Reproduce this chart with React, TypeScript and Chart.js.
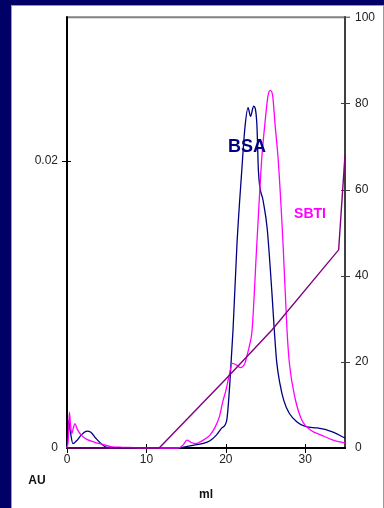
import React, { useEffect, useRef } from "react";
import { Chart, registerables } from "chart.js";
Chart.register(...registerables);

// BSA absorbance trace (ml, AU)
const bsaMl = [0, 0.2, 0.4, 0.75, 1.2, 1.8, 2.5, 3.0, 3.6, 4.3, 5.0, 6, 14, 15, 16, 17, 18, 18.8, 19.5, 20.1, 20.5, 20.9, 21.4, 22.0, 22.4, 22.8, 23.1, 23.5, 23.9, 24.1, 24.7, 25.2, 25.8, 26.1, 26.4, 26.8, 27.3, 28.0, 29.0, 30, 31.5, 32.5, 33.5, 35];
const bsaAU = [0, 0.0019, 0.0012, 0.0003, 0.0005, 0.0009, 0.00118, 0.0011, 0.0007, 0.0003, 0.00005, 0, 0, 0.0001, 0.0002, 0.0003, 0.0005, 0.0009, 0.0014, 0.0019, 0.0045, 0.0082, 0.0142, 0.0193, 0.0223, 0.0237, 0.0231, 0.0238, 0.0226, 0.0193, 0.0172, 0.0153, 0.0108, 0.0082, 0.006, 0.0045, 0.0033, 0.0024, 0.0018, 0.0015, 0.0014, 0.0013, 0.0011, 0.0007];

// SBTI absorbance trace (ml, AU)
const sbtiMl = [0, 0.15, 0.3, 0.45, 0.6, 0.8, 1.0, 1.3, 1.8, 2.5, 3.5, 4.5, 5.5, 7, 8.5, 9, 14, 14.6, 15.1, 15.6, 16.2, 17, 18, 18.6, 19.2, 19.6, 20.0, 20.4, 20.8, 21.3, 21.8, 22.4, 22.6, 23.0, 23.3, 23.9, 24.5, 24.9, 25.3, 25.6, 25.9, 26.2, 26.6, 27.2, 27.7, 28.0, 28.7, 29.6, 30.8, 32, 33.5, 35];
const sbtiAU = [0, 0.0005, 0.0025, 0.0016, 0.001, 0.0014, 0.0017, 0.0013, 0.0009, 0.0006, 0.0004, 0.00025, 0.0001, 0.00005, 0.00003, 0, 0, 0.0002, 0.00055, 0.0004, 0.0003, 0.0005, 0.0009, 0.0014, 0.0022, 0.0032, 0.004, 0.005, 0.0059, 0.0058, 0.0056, 0.0059, 0.0063, 0.0072, 0.0082, 0.0142, 0.02, 0.0225, 0.0245, 0.0249, 0.0245, 0.0225, 0.02, 0.0142, 0.0082, 0.0059, 0.0035, 0.0019, 0.0012, 0.0009, 0.00055, 0.00035];

// Gradient (ml, % on right axis)
const gradMl = [0, 11.6, 20, 25.8, 34.2, 35];
const gradPct = [0, 0, 16, 27.4, 46, 68];

// Tick values
const auTicks = [0, 0.02];
const pctTicks = [0, 20, 40, 60, 80, 100];
const mlTicks = [0, 10, 20, 30];

const NAVY = "#000080";
const MAGENTA = "#ff00ff";
const PURPLE = "#800080";
const FONT = "'Liberation Sans', Arial, sans-serif";

const pts = (xs: number[], ys: number[]) => xs.map((x, i) => ({ x, y: ys[i] }));

const framePlugin = {
  id: "frame",
  beforeDatasetsDraw(chart: any) {
    const { ctx, chartArea: a, scales } = chart;
    ctx.save();
    ctx.lineCap = "butt";
    // top line
    ctx.strokeStyle = "#808080";
    ctx.lineWidth = 2;
    ctx.beginPath();
    ctx.moveTo(a.left, a.top);
    ctx.lineTo(a.right, a.top);
    ctx.stroke();
    // right axis
    ctx.strokeStyle = "#404040";
    ctx.beginPath();
    ctx.moveTo(a.right, a.top - 1);
    ctx.lineTo(a.right, a.bottom);
    ctx.stroke();
    // left and bottom axes
    ctx.strokeStyle = "#000";
    ctx.beginPath();
    ctx.moveTo(a.left, a.top - 1);
    ctx.lineTo(a.left, a.bottom + 1);
    ctx.moveTo(a.left - 1, a.bottom);
    ctx.lineTo(a.right + 1, a.bottom);
    ctx.stroke();
    // crossing tick marks
    ctx.lineWidth = 1;
    ctx.strokeStyle = "#000";
    ctx.beginPath();
    for (const v of auTicks) {
      if (v === 0) continue;
      const y = Math.round(scales.yL.getPixelForValue(v)) + 0.5;
      ctx.moveTo(a.left - 5, y);
      ctx.lineTo(a.left + 4, y);
    }
    for (const v of mlTicks) {
      const x = Math.round(scales.x.getPixelForValue(v)) + 0.5;
      ctx.moveTo(x, a.bottom - 4);
      ctx.lineTo(x, a.bottom + 5);
    }
    ctx.stroke();
    ctx.strokeStyle = "#404040";
    ctx.beginPath();
    for (const v of pctTicks) {
      if (v === 0 || v === 100) {
        if (v === 100) {
          ctx.moveTo(a.right, a.top);
          ctx.lineTo(a.right + 5, a.top);
        }
        continue;
      }
      const y = Math.round(scales.yR.getPixelForValue(v)) + 0.5;
      ctx.moveTo(a.right - 4, y);
      ctx.lineTo(a.right + 5, y);
    }
    ctx.stroke();
    ctx.restore();
  },
  afterDraw(chart: any) {
    const { ctx } = chart;
    ctx.save();
    ctx.textAlign = "center";
    ctx.textBaseline = "middle";
    ctx.fillStyle = NAVY;
    ctx.font = `bold 18px ${FONT}`;
    ctx.fillText("BSA", 247, 147);
    ctx.fillStyle = MAGENTA;
    ctx.font = `bold 14px ${FONT}`;
    ctx.fillText("SBTI", 310, 214);
    ctx.fillStyle = "#111";
    ctx.font = `bold 12px ${FONT}`;
    ctx.fillText("AU", 37, 481);
    ctx.fillText("ml", 206, 495);
    ctx.restore();
  },
};

export default function App() {
  const ref = useRef<HTMLCanvasElement>(null);
  useEffect(() => {
    if (!ref.current) return;
    const chart = new Chart(ref.current, {
      type: "line",
      data: {
        datasets: [
          {
            label: "Gradient",
            data: pts(gradMl, gradPct),
            yAxisID: "yR",
            borderColor: PURPLE,
            borderWidth: 1.4,
            pointRadius: 0,
            tension: 0,
            clip: 4,
          },
          {
            label: "SBTI",
            data: pts(sbtiMl, sbtiAU),
            yAxisID: "yL",
            borderColor: MAGENTA,
            borderWidth: 1.3,
            pointRadius: 0,
            cubicInterpolationMode: "monotone",
            clip: 4,
          },
          {
            label: "BSA",
            data: pts(bsaMl, bsaAU),
            yAxisID: "yL",
            borderColor: NAVY,
            borderWidth: 1.3,
            pointRadius: 0,
            cubicInterpolationMode: "monotone",
            clip: 4,
          },
        ],
      },
      options: {
        responsive: false,
        animation: false,
        layout: { padding: { top: 17, left: 0, right: 0, bottom: 0 } },
        plugins: { legend: { display: false }, tooltip: { enabled: false } },
        scales: {
          x: {
            type: "linear",
            position: "bottom",
            min: 0,
            max: 35,
            afterBuildTicks: (s: any) => {
              s.ticks = mlTicks.map((v) => ({ value: v }));
            },
            afterFit: (s: any) => {
              s.height = 60;
            },
            grid: { display: false, drawTicks: false, tickLength: 0 },
            border: { display: false },
            ticks: { color: "#222", font: { family: FONT, size: 12 }, padding: 4, maxRotation: 0 },
          },
          yL: {
            type: "linear",
            position: "left",
            min: 0,
            max: 0.03,
            afterBuildTicks: (s: any) => {
              s.ticks = auTicks.map((v) => ({ value: v }));
            },
            afterFit: (s: any) => {
              s.width = 67;
            },
            grid: { display: false, drawTicks: false, tickLength: 0 },
            border: { display: false },
            ticks: {
              color: "#222",
              font: { family: FONT, size: 12 },
              padding: 9,
              callback: (v: any) => (v === 0 ? "0" : String(v)),
            },
          },
          yR: {
            type: "linear",
            position: "right",
            min: 0,
            max: 100,
            afterBuildTicks: (s: any) => {
              s.ticks = pctTicks.map((v) => ({ value: v }));
            },
            afterFit: (s: any) => {
              s.width = 39;
            },
            grid: { display: false, drawTicks: false, tickLength: 0 },
            border: { display: false },
            ticks: { color: "#222", font: { family: FONT, size: 12 }, padding: 10 },
          },
        },
      },
      plugins: [framePlugin],
    });
    return () => chart.destroy();
  }, []);

  return (
    <div style={{ position: "fixed", left: 0, top: 0, width: 384, height: 508, background: "#000066", overflow: "hidden" }}>
      <div
        style={{
          position: "absolute",
          left: 11,
          top: 5,
          width: 371,
          height: 510,
          background: "#fff",
          border: "1px solid #9a9a9a",
        }}
      />
      <canvas ref={ref} width={384} height={508} style={{ position: "absolute", left: 0, top: 0 }} />
    </div>
  );
}
